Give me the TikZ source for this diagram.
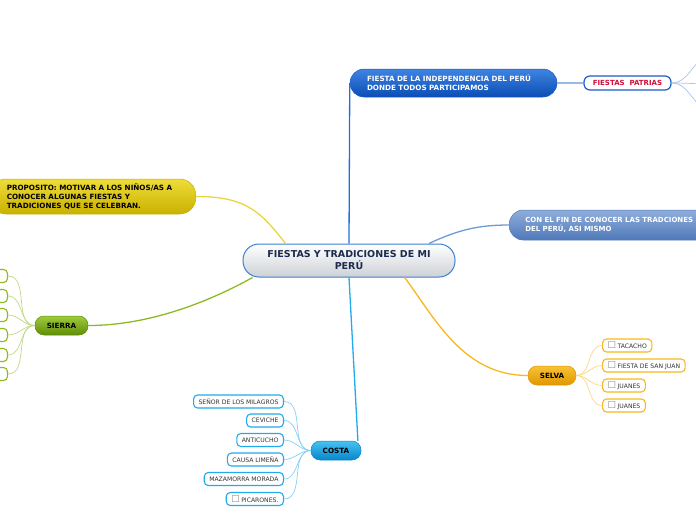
\documentclass[tikz,border=0pt]{standalone}
\usepackage{fontspec}
\setmainfont{DejaVu Sans}
\usetikzlibrary{positioning}
\definecolor{centralline}{HTML}{3A80CF}
\definecolor{centralfill}{HTML}{CDD1D6}
\definecolor{centraltext}{HTML}{1C2A4E}
\definecolor{indeptop}{HTML}{3F84E2}
\definecolor{indepbot}{HTML}{0B4DB5}
\definecolor{indepline}{HTML}{1A5CCB}
\definecolor{patriasred}{HTML}{D0103A}
\definecolor{fintop}{HTML}{8FAEDB}
\definecolor{finbot}{HTML}{5079B9}
\definecolor{proptop}{HTML}{EEDC38}
\definecolor{propbot}{HTML}{C9B100}
\definecolor{sierratop}{HTML}{9FCB3C}
\definecolor{sierrabot}{HTML}{5F8D08}
\definecolor{selvatop}{HTML}{F9C235}
\definecolor{selvabot}{HTML}{DF9700}
\definecolor{costatop}{HTML}{45C3F2}
\definecolor{costabot}{HTML}{0786CB}
\definecolor{greenline}{HTML}{8CBA22}
\definecolor{orangeline}{HTML}{F6B81E}
\definecolor{cyanline}{HTML}{22AAEA}
\definecolor{yellowline}{HTML}{E9D63E}
\definecolor{blueline}{HTML}{1E70E0}
\definecolor{steelline}{HTML}{6E9AD8}
\definecolor{leaftext}{HTML}{333333}
\definecolor{boxgray}{HTML}{8A8A8A}
\newcommand{\tickbox}{{\fontsize{9.5}{9.5}\selectfont\textcolor{boxgray}{☐}}\hspace{1.5pt}}

\begin{document}
\begin{tikzpicture}[
  x=1pt, y=-1pt,
  maintopic/.style={rectangle, rounded corners=16pt, draw=centralline, line width=1pt, top color=white, bottom color=centralfill, minimum width=212pt, minimum height=33pt, align=center, text=centraltext, font=\fontsize{9.5}{12}\selectfont\bfseries},
  branch/.style={rectangle, rounded corners=9pt, line width=0.5pt, minimum height=19pt, inner xsep=6pt, font=\fontsize{7.2}{9}\selectfont\bfseries},
  leaf/.style={rectangle, rounded corners=4pt, fill=white, line width=1.1pt, minimum height=13pt, inner xsep=5pt, inner ysep=0pt, text=leaftext, font=\fontsize{6.1}{7}\selectfont},
  link/.style={line width=1.3pt},
  twig/.style={line width=0.7pt, out=180, in=0}
]
  \useasboundingbox (0,0) rectangle (696,520);

  % main topic and branches
  \node[maintopic] (central) at (349,260.5) {FIESTAS Y TRADICIONES DE MI\\PERÚ};
  \node[branch, draw=indepline, top color=indeptop, bottom color=indepbot, text=white, minimum width=207pt, minimum height=28pt, rounded corners=14pt, align=left, text width=173pt, inner xsep=17pt] (indep) at (453.5,83) {FIESTA DE LA INDEPENDENCIA DEL PERÚ\\DONDE TODOS PARTICIPAMOS};
  \node[rectangle, rounded corners=6pt, draw=indepline, line width=1.2pt, fill=white, minimum width=87pt, minimum height=14pt, inner ysep=0pt, text=patriasred, font=\fontsize{7}{8}\selectfont\bfseries] (patrias) at (627.5,83) {FIESTAS\ \ PATRIAS};
  \node[branch, draw=finbot, top color=fintop, bottom color=finbot, text=white, anchor=west, minimum height=30pt, rounded corners=14pt, align=left, text width=200pt, inner xsep=16pt, font=\fontsize{7}{9}\selectfont\bfseries] (finbox) at (509,225) {CON EL FIN DE CONOCER LAS TRADCIONES\\DEL PERÚ, ASI MISMO};
  \node[branch, draw=propbot, top color=proptop, bottom color=propbot, text=black, anchor=east, minimum height=35pt, rounded corners=16pt, align=left, text width=172pt, inner xsep=17pt] (proposito) at (196,196.5) {PROPOSITO: MOTIVAR A LOS NIÑOS/AS A\\CONOCER ALGUNAS FIESTAS Y\\TRADICIONES QUE SE CELEBRAN.};
  \node[branch, draw=sierrabot, top color=sierratop, bottom color=sierrabot, text=black, minimum width=53pt] (sierra) at (61.5,325.5) {SIERRA};
  \node[branch, draw=selvabot, top color=selvatop, bottom color=selvabot, text=black, minimum width=48pt] (selva) at (552,375.5) {SELVA};
  \node[branch, draw=costabot, top color=costatop, bottom color=costabot, text=black, minimum width=50pt] (costa) at (336,450.5) {COSTA};

  % leaves
  \foreach \i/\y in {1/276,2/296,3/315,4/335,5/355,6/374}
    \node[leaf, draw=greenline, anchor=east, minimum width=30pt] (s\i) at (8,\y) {};
  \node[leaf, draw=orangeline, anchor=west] (v1) at (602,345.5) {\tickbox TACACHO};
  \node[leaf, draw=orangeline, anchor=west] (v2) at (602,365.5) {\tickbox FIESTA DE SAN JUAN};
  \node[leaf, draw=orangeline, anchor=west] (v3) at (602,385.5) {\tickbox JUANES};
  \node[leaf, draw=orangeline, anchor=west] (v4) at (602,405.5) {\tickbox JUANES};
  \node[leaf, draw=cyanline, anchor=east] (c1) at (284,401.5) {SEÑOR DE LOS MILAGROS};
  \node[leaf, draw=cyanline, anchor=east] (c2) at (284,420.5) {CEVICHE};
  \node[leaf, draw=cyanline, anchor=east] (c3) at (284,440) {ANTICUCHO};
  \node[leaf, draw=cyanline, anchor=east] (c4) at (284,459.5) {CAUSA LIMEÑA};
  \node[leaf, draw=cyanline, anchor=east] (c5) at (284,479) {MAZAMORRA MORADA};
  \node[leaf, draw=cyanline, anchor=east] (c6) at (284,499) {\tickbox PICARONES.};
  \coordinate (p1) at (712,56);
  \coordinate (p2) at (712,84);
  \coordinate (p3) at (712,110);

  % connectors
  \draw[link, blueline] (central.north) -- (indep.west);
  \draw[link, steelline!70] (indep.east) -- (patrias.west);
  \draw[link, steelline] (central.12) .. controls +(30,-14) and +(-30,0) .. (finbox.west);
  \draw[link, yellowline] (central.165) .. controls +(-25,-32) and +(50,0) .. (proposito.east);
  \draw[link, greenline] (central.190) .. controls +(-45,25) and +(60,0) .. (sierra.east);
  \draw[link, orangeline] (central.343) .. controls +(30,40) and +(-65,0) .. (selva.west);
  \draw[link, cyanline] (central.south) -- (costa.24);
  \foreach \p in {p1,p2,p3}
    \draw[twig, steelline!60, out=0, in=180] (patrias.east) to (\p);
  \foreach \i in {1,...,6}
    \draw[twig, greenline!55] (sierra.west) to (s\i.east);
  \foreach \i in {1,...,4}
    \draw[twig, orangeline!55, out=0, in=180] (selva.east) to (v\i.west);
  \foreach \i in {1,...,6}
    \draw[twig, cyanline!55] (costa.west) to (c\i.east);
\end{tikzpicture}
\end{document}
